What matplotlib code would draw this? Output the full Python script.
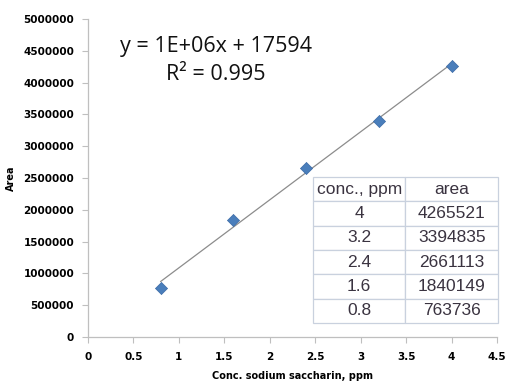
import numpy as np
import matplotlib.pyplot as plt

# calibration data
conc = [0.8, 1.6, 2.4, 3.2, 4.0]
area = [763736, 1840149, 2661113, 3394835, 4265521]

table_conc = ["4", "3.2", "2.4", "1.6", "0.8"]
table_area = ["4265521", "3394835", "2661113", "1840149", "763736"]

xticks = [0, 0.5, 1, 1.5, 2, 2.5, 3, 3.5, 4, 4.5]
yticks = [0, 500000, 1000000, 1500000, 2000000, 2500000, 3000000,
          3500000, 4000000, 4500000, 5000000]

fig = plt.figure(figsize=(5.06, 3.83), dpi=100)
ax = fig.add_axes([88 / 506, 1 - 337 / 383, (497 - 88) / 506, (337 - 19) / 383])

# linear trendline
slope, icpt = np.polyfit(conc, area, 1)
xs = np.array([min(conc), max(conc)])
ax.plot(xs, slope * xs + icpt, color="#8c8c8c", lw=0.9, zorder=2)
ax.scatter(conc, area, marker="D", s=38, color="#4a7ebb", edgecolor="#3b6aa6",
           linewidth=0.5, zorder=3)

ax.set_xlim(0, 4.5)
ax.set_ylim(0, 5000000)
ax.set_xticks(xticks)
ax.set_xticklabels([("%g" % t) for t in xticks])
ax.set_yticks(yticks)
ax.set_yticklabels([str(t) for t in yticks])

for s in ["top", "right"]:
    ax.spines[s].set_visible(False)
for s in ["left", "bottom"]:
    ax.spines[s].set_color("#bfbfbf")
    ax.spines[s].set_linewidth(0.9)
ax.tick_params(axis="both", direction="out", length=4, color="#bfbfbf",
               labelsize=7.5)
ax.tick_params(axis="x", pad=7)
ax.tick_params(axis="y", pad=6)
for lab in ax.get_xticklabels() + ax.get_yticklabels():
    lab.set_fontweight("bold")

ax.set_xlabel("Conc. sodium saccharin, ppm", fontsize=7, fontweight="bold", labelpad=6)
ax.set_ylabel("Area", fontsize=7, fontweight="bold", labelpad=5)

ax.text(0.313, 0.912, "y = 1E+06x + 17594", transform=ax.transAxes,
        fontsize=15.5, family="Open Sans", ha="center", va="center", color="#111111")
ax.text(0.313, 0.824, "R² = 0.995", transform=ax.transAxes,
        fontsize=15.5, family="Open Sans", ha="center", va="center", color="#111111")

# data table in lower right
rows = [["conc., ppm", "area"]] + [[c, a] for c, a in zip(table_conc, table_area)]
tab = ax.table(cellText=rows, cellLoc="center",
               bbox=[(313 - 88) / 409, (337 - 323) / 318, (498 - 313) / 409, (323 - 177) / 318])
tab.auto_set_font_size(False)
for (r, c), cell in tab.get_celld().items():
    cell.set_edgecolor("#c9d1de")
    cell.set_linewidth(0.9)
    cell.set_facecolor("white")
    cell.get_text().set_fontsize(12.5)
    cell.get_text().set_family("Liberation Sans")
    cell.get_text().set_color("#3a3340")

fig.savefig("out.png", dpi=100)
